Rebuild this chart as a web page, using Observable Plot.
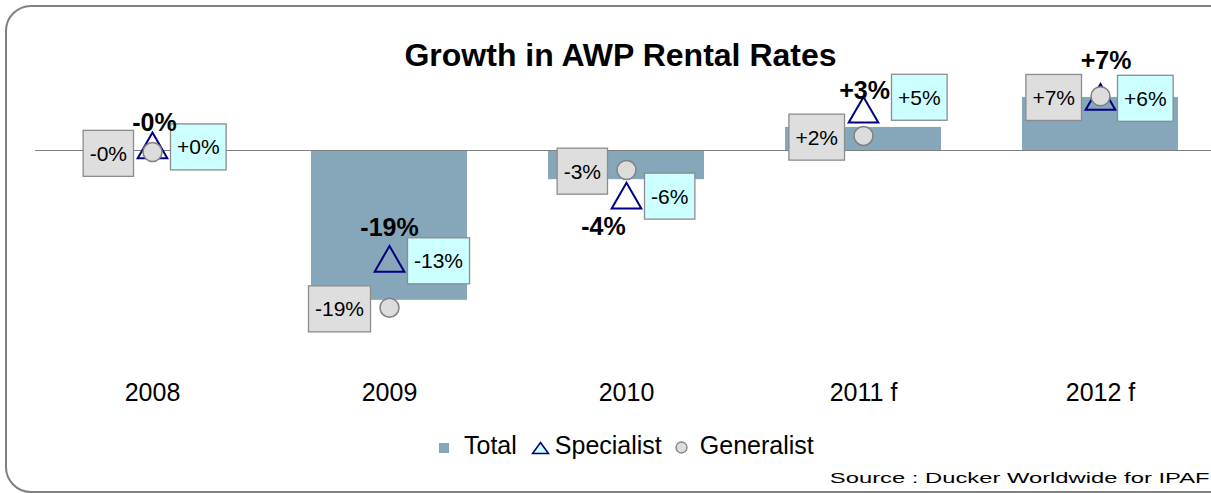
<!DOCTYPE html>
<html>
<head>
<meta charset="utf-8">
<script src="https://cdn.jsdelivr.net/npm/d3@7"></script>
<script src="https://cdn.jsdelivr.net/npm/@observablehq/plot@0.6"></script>
<style>
  html, body { margin: 0; padding: 0; background: #fff; overflow: hidden; }
  body { width: 1211px; height: 493px; position: relative; font-family: "Liberation Sans", Arial, sans-serif; }
  #frame { position: absolute; left: 5px; top: 5px; width: 1250px; height: 484px; border: 2px solid #808080; border-radius: 26px; box-sizing: content-box; }
  #chart { position: absolute; left: 0; top: 0; }
  #title { position: absolute; left: 0; top: 39px; width: 1241px; text-align: center; font-size: 32px; line-height: 32px; font-weight: bold; color: #000; }
  #legend { position: absolute; left: 439px; top: 433px; display: flex; align-items: center; font-size: 25px; line-height: 24px; color: #000; white-space: nowrap; }
  #legend svg { position: relative; top: 2.5px; display: block; }
  #source { position: absolute; right: 1px; top: 470px; font-size: 15px; line-height: 16px; color: #000; white-space: nowrap; transform: scaleX(1.585); transform-origin: right center; }
</style>
</head>
<body>
<div id="frame"></div>
<div id="chart"></div>
<div id="title">Growth in AWP Rental Rates</div>
<div id="legend"></div>
<div id="source">Source : Ducker Worldwide for IPAF</div>
<script>
// ---- data ----
const categories = ["2008", "2009", "2010", "2011 f", "2012 f"];
const total = [-0.1, -18.5, -3.6, 2.85, 6.55];
const specialist = [0.1, -13.9, -6.1, 4.5, 6.1];
const generalist = [-0.2, -19.4, -2.4, 1.8, 6.7];
const totalLabels = ["-0%", "-19%", "-4%", "+3%", "+7%"];
const specialistLabels = ["+0%", "-13%", "-6%", "+5%", "+6%"];
const generalistLabels = ["-0%", "-19%", "-3%", "+2%", "+7%"];
const seriesNames = ["Total", "Specialist", "Generalist"];

// ---- layout nudges for the data labels (pixels) ----
const totalNudge = [[2, -27], [0, -35.5], [-23, 27], [1, -23.5], [5.5, -40]];
const specNudge = [[24.5, -2], [24.5, -1.5], [24.5, -3], [34.5, -16], [23.5, -2]];

const rows = categories.map((c, i) => ({
  cat: c, total: total[i], specialist: specialist[i], generalist: generalist[i],
  tLabel: totalLabels[i], sLabel: specialistLabels[i], gLabel: generalistLabels[i], i
}));

const BAR = "#86a6ba";
const NAVY = "#000080";
const GEN_FILL = "#dcdcdc";
const GEN_STROKE = "#808080";
const SPEC_BOX = "#ccffff";
const GEN_BOX = "#dedede";

const marks = [
  Plot.barY(rows, {x: "cat", y: "total", fill: BAR}),
  Plot.ruleY([0], {stroke: "#808080", strokeWidth: 1.2}),
  Plot.axisX({tickSize: 0, tickPadding: 0, fontSize: 25, label: null, fill: "#000"}),
  Plot.dot(rows, {x: "cat", y: "specialist", symbol: "triangle", r: 11, stroke: NAVY, strokeWidth: 2, fill: "none"}),
  Plot.dot(rows, {x: "cat", y: "generalist", r: 9.5, fill: GEN_FILL, stroke: GEN_STROKE, strokeWidth: 1.5}),
  Plot.text(rows, {x: "cat", y: "generalist", text: "gLabel", textAnchor: "end", lineAnchor: "middle",
    dx: -25.5, dy: 2, fontSize: 21, fill: "#000", ariaDescription: "box-gen"})
];
rows.forEach((r, i) => {
  marks.push(Plot.text([r], {x: "cat", y: "specialist", text: "sLabel", textAnchor: "start", lineAnchor: "middle",
    dx: specNudge[i][0], dy: specNudge[i][1], fontSize: 21, fill: "#000", ariaDescription: "box-spec"}));
});
rows.forEach((r, i) => {
  marks.push(Plot.text([r], {x: "cat", y: "specialist", text: "tLabel", textAnchor: "middle", lineAnchor: "middle",
    dx: totalNudge[i][0], dy: totalNudge[i][1], fontSize: 25, fontWeight: "bold", fill: "#000"}));
});

const chart = Plot.plot({
  width: 1211, height: 493,
  marginLeft: 35, marginRight: 0, marginTop: 0, marginBottom: 110,
  style: {fontFamily: "'Liberation Sans', Arial, sans-serif", background: "transparent", overflow: "visible"},
  x: {domain: categories, range: [33.5, 1218.5], paddingInner: 0.342, paddingOuter: 0.171},
  y: {domain: [-20, 10], range: [312, 69], axis: null},
  marks
});
document.getElementById("chart").appendChild(chart);

// boxes behind the series data labels
const NS = "http://www.w3.org/2000/svg";
function addBoxes(desc, fill) {
  chart.querySelectorAll(`g[aria-description="${desc}"] text`).forEach(t => {
    const bb = t.getBBox();
    const cy = bb.y + bb.height / 2;
    const r = document.createElementNS(NS, "rect");
    r.setAttribute("x", bb.x - 6.5);
    r.setAttribute("y", cy - 23);
    r.setAttribute("width", bb.width + 13);
    r.setAttribute("height", 46);
    r.setAttribute("fill", fill);
    r.setAttribute("stroke", "#8c8c8c");
    r.setAttribute("stroke-width", 1.3);
    const tr = t.getAttribute("transform");
    if (tr) r.setAttribute("transform", tr);
    t.parentNode.insertBefore(r, t);
  });
}
addBoxes("box-gen", GEN_BOX);
addBoxes("box-spec", SPEC_BOX);

// legend
const legend = document.getElementById("legend");
const sw = [
  `<svg width="10" height="10"><rect x="0" y="0" width="10" height="10" fill="${BAR}"/></svg>`,
  `<svg width="19" height="14"><path d="M9.5,1.5 L17.5,12.5 L1.5,12.5 Z" fill="${SPEC_BOX}" stroke="${NAVY}" stroke-width="1.6"/></svg>`,
  `<svg width="13" height="13"><circle cx="6.5" cy="6.5" r="5.5" fill="${GEN_FILL}" stroke="${GEN_STROKE}" stroke-width="1.3"/></svg>`
];
const gapsBefore = [[0, 15], [14, 5], [13, 12]];
seriesNames.forEach((name, i) => {
  const s = document.createElement("span");
  s.style.marginLeft = gapsBefore[i][0] + "px";
  s.innerHTML = sw[i];
  legend.appendChild(s);
  const t = document.createElement("span");
  t.style.marginLeft = gapsBefore[i][1] + "px";
  t.textContent = name;
  legend.appendChild(t);
});
</script>
</body>
</html>
